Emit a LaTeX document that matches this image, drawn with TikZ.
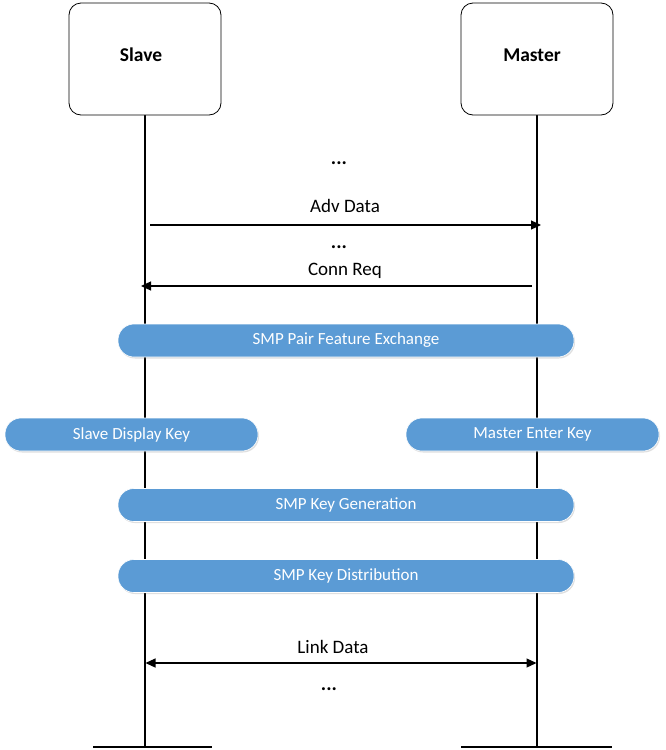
\documentclass[tikz,border=0pt]{standalone}
\usepackage{fontspec}
\setmainfont{Carlito}
\usetikzlibrary{arrows.meta,shadows}
\definecolor{pillblue}{HTML}{5B9BD5}
\tikzset{
  actor/.style={draw=black, line width=0.8pt, rounded corners=12pt, minimum width=152pt, minimum height=112pt, fill=white},
  actorname/.style={font=\fontsize{19.5}{22}\selectfont\bfseries, inner sep=0pt},
  lifeline/.style={line width=1.2pt},
  msg/.style={line width=1.2pt, -{Triangle[length=10pt,width=9pt]}},
  msgboth/.style={line width=1.2pt, {Triangle[length=10pt,width=9pt]}-{Triangle[length=10pt,width=9pt]}},
  lbl/.style={font=\fontsize{19}{22}\selectfont, inner sep=0pt},
  dots/.style={font=\fontsize{20}{22}\selectfont\bfseries, inner sep=0pt},
  pill/.style={fill=pillblue, draw=white, line width=0.6pt, rounded corners=16pt, minimum height=33pt, text=white, font=\fontsize{17}{20}\selectfont, inner sep=0pt, drop shadow={shadow xshift=1pt, shadow yshift=-1.5pt, opacity=0.25}},
}
\begin{document}
\begin{tikzpicture}[x=1pt,y=-1pt]
\useasboundingbox (0,0) rectangle (666,750);
% lifelines
\coordinate (sTop) at (145,115);
\coordinate (sBot) at (145,747);
\coordinate (mTop) at (537,115);
\coordinate (mBot) at (537,747);
\draw[lifeline] (sTop) -- (sBot);
\draw[lifeline] (mTop) -- (mBot);
\coordinate (sbL) at (93,747);
\coordinate (sbR) at (212,747);
\coordinate (mbL) at (461,747);
\coordinate (mbR) at (612,747);
\draw[lifeline] (sbL) -- (sbR);
\draw[lifeline] (mbL) -- (mbR);
% actors
\node[actor] (slave) at (145,59) {};
\node[actor] (master) at (537,59) {};
\node[actorname] (slaveName) at (141,55) {Slave};
\node[actorname] (masterName) at (532,55) {Master};
% messages
\node[dots] (d1) at (339,163) {...};
\node[lbl] (adv) at (345,206) {Adv Data};
\coordinate (a1) at (150,225);
\coordinate (a2) at (541,225);
\draw[msg] (a1) -- (a2);
\node[dots] (d2) at (339,247) {...};
\node[lbl] (conn) at (345,271) {Conn Req};
\coordinate (c1) at (532,286);
\coordinate (c2) at (141,286);
\draw[msg] (c1) -- (c2);
% pills
\node[pill, minimum width=456pt] (pfe) at (346,340.5) {SMP Pair Feature Exchange};
\node[pill, minimum width=253pt] (sdk) at (131.5,434.5) {Slave Display Key};
\node[pill, minimum width=253pt] (mek) at (532.5,434.5) {Master Enter Key};
\node[pill, minimum width=456pt] (kg) at (346,505) {SMP Key Generation};
\node[pill, minimum width=456pt] (kd) at (346,576) {SMP Key Distribution};
% link data
\node[lbl] (link) at (333,647) {Link Data};
\coordinate (l1) at (145.5,663);
\coordinate (l2) at (536.5,663);
\draw[msgboth] (l1) -- (l2);
\node[dots] (d3) at (329,689) {...};
\end{tikzpicture}
\end{document}
